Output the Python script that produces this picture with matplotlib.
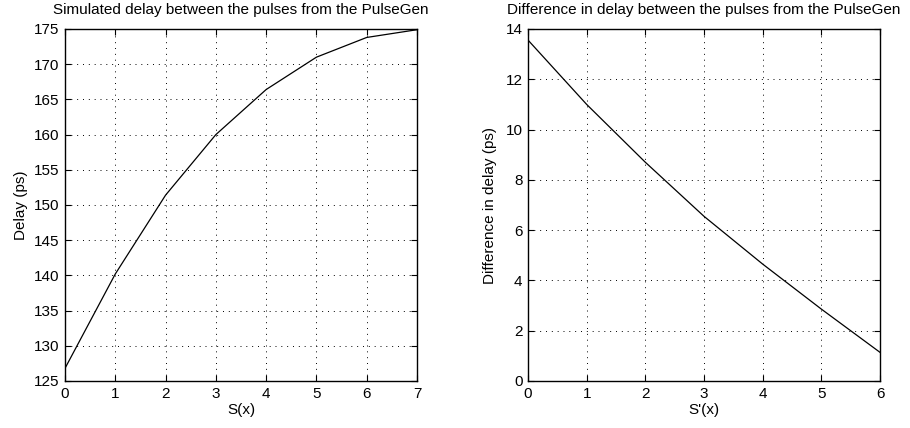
import numpy as np
import matplotlib.pyplot as plt

plt.rcParams['font.family'] = ['Liberation Sans', 'DejaVu Sans']
plt.rcParams['font.size'] = 11

s_x = [0, 1, 2, 3, 4, 5, 6, 7]
delay = [126.8, 140.2, 151.4, 160.0, 166.4, 171.0, 173.8, 174.9]

sd_x = [0, 1, 2, 3, 4, 5, 6]
delay_diff = [13.56, 11.0, 8.7, 6.55, 4.65, 2.86, 1.14]


def style_axes(ax):
    ax.grid(True, linestyle=(0, (1, 5)), color='black', linewidth=0.7)
    ax.tick_params(direction='in', top=True, right=True, length=4, width=0.8, pad=4)
    for sp in ax.spines.values():
        sp.set_linewidth(1.0)


fig = plt.figure(figsize=(9.1, 4.28), dpi=100)

ax1 = fig.add_axes([65 / 910, 1 - 381 / 428, 352 / 910, 352 / 428])
ax1.plot(s_x, delay, color='black', linewidth=0.9)
ax1.set_xlim(0, 7)
ax1.set_ylim(125, 175)
ax1.set_xticks(range(0, 8))
ax1.set_yticks(range(125, 176, 5))
ax1.set_xlabel('S(x)', labelpad=2)
ax1.set_ylabel('Delay (ps)', labelpad=4)
ax1.set_title('Simulated delay between the pulses from the PulseGen', fontsize=11, pad=11)
style_axes(ax1)

ax2 = fig.add_axes([528 / 910, 1 - 381 / 428, 352 / 910, 352 / 428])
ax2.plot(sd_x, delay_diff, color='black', linewidth=0.9)
ax2.set_xlim(0, 6)
ax2.set_ylim(0, 14)
ax2.set_xticks(range(0, 7))
ax2.set_yticks(range(0, 15, 2))
ax2.set_xlabel("S'(x)", labelpad=2)
ax2.set_ylabel('Difference in delay (ps)', labelpad=6)
ax2.set_title('Difference in delay between the pulses from the PulseGen', fontsize=11, pad=11)
style_axes(ax2)

fig.savefig('out.png', dpi=100)
